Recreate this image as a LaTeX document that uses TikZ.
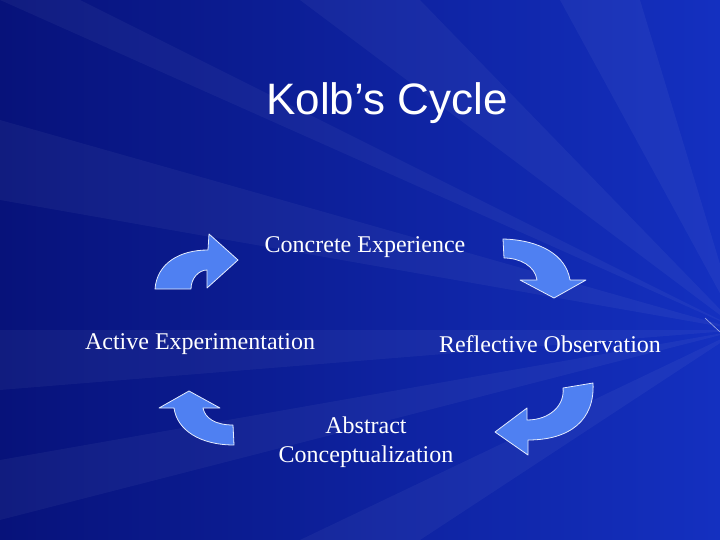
\documentclass[tikz,border=0pt]{standalone}
\usepackage{fontspec}
\setmainfont{Liberation Serif}
\newfontfamily\titlefont{Liberation Sans}
\definecolor{bgdark}{HTML}{07127A}
\definecolor{bgmid}{HTML}{1430C0}
\definecolor{arrowfill}{HTML}{4F80F2}
\begin{document}
\begin{tikzpicture}[x=1pt,y=-1pt,
  cyc/.style={fill=arrowfill,draw=white!85!arrowfill,line width=0.8pt,line join=round},
  lbl/.style={text=white,font=\fontsize{24}{29}\selectfont,align=center}]
\useasboundingbox (0,0) rectangle (720,540);
\shade[left color=bgdark,right color=bgmid] (0,0) rectangle (720,540);
\begin{scope}[opacity=0.045]
\fill[white] (740,330) -- (0,120) -- (0,200) -- cycle;
\fill[white] (740,330) -- (0,330) -- (0,390) -- cycle;
\fill[white] (740,330) -- (300,0) -- (420,0) -- cycle;
\fill[white] (740,330) -- (560,0) -- (640,0) -- cycle;
\fill[white] (740,330) -- (300,540) -- (420,540) -- cycle;
\fill[white] (740,330) -- (0,460) -- (0,520) -- cycle;
\fill[white] (740,330) -- (0,0) -- (80,0) -- cycle;
\end{scope}
\draw[white!60!bgmid,line width=0.6pt] (705,318) -- (720,332);
\node[text=white,font=\titlefont\fontsize{44}{50}\selectfont] (title) at (387,103) {Kolb’s Cycle};
\node[lbl] (ce) at (365,247) {Concrete Experience};
\node[lbl] (ae) at (200,344) {Active Experimentation};
\node[lbl] (ro) at (550,344) {Reflective Observation};
\node[lbl,inner sep=0pt] (ac) at (366,442) {Abstract\\Conceptualization};
% top-left arrow
\draw[cyc] (155,289) .. controls (157,263) and (180,250) .. (208,250) -- (209,234) -- (238,260) -- (207,288) -- (207,270)
  .. controls (199,270) and (191,278) .. (191,289) -- cycle;
% top-right arrow
\draw[cyc] (503,239) .. controls (540,240) and (566,255) .. (570,280) -- (586,280) -- (554,298) -- (520,280) -- (537,280)
  .. controls (535,266) and (520,258) .. (504,258) -- cycle;
% bottom-right arrow
\draw[cyc] (593,383) .. controls (595,420) and (570,440) .. (528,440) -- (528,455) -- (495,432) -- (527,408) -- (527,420)
  .. controls (550,420) and (565,405) .. (563,388) -- cycle;
% bottom-left arrow
\draw[cyc] (159,408) -- (189,391) -- (220,408) -- (203,408) .. controls (205,418) and (215,425) .. (233,425) -- (234,445)
  .. controls (200,445) and (177,430) .. (174,408) -- cycle;
\end{tikzpicture}
\end{document}
